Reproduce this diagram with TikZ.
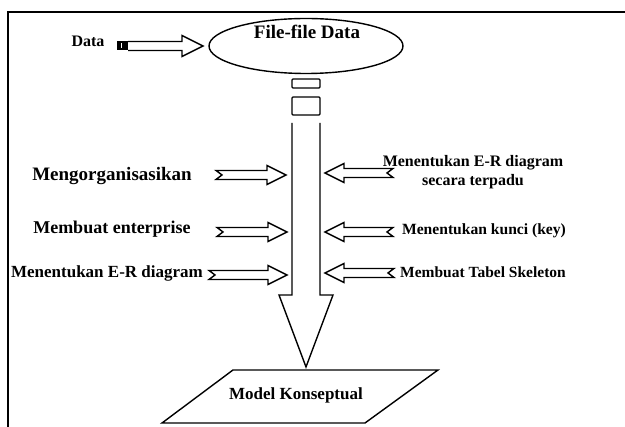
\documentclass[tikz,border=0pt]{standalone}
\usepackage{fontspec}
\setmainfont{Liberation Serif}
\usetikzlibrary{shapes.geometric,calc}
\tikzset{
  lbl/.style={inner sep=0pt, align=center, font=\bfseries},
  shp/.style={draw, line width=1.4pt, line join=miter},
  frame/.style={draw, line width=1.8pt}
}
\newcommand\notchedarrow[2]{%
  \path ($(#2)!19pt!(#1)$) coordinate (hb) ($(#1)!6pt!(#2)$) coordinate (nt);
  \draw[shp] ($(#1)+(0,4.5)$) -- ($(hb)+(0,4.5)$) -- ($(hb)+(0,9.5)$) -- (#2)
    -- ($(hb)+(0,-9.5)$) -- ($(hb)+(0,-4.5)$) -- ($(#1)+(0,-4.5)$) -- (nt) -- cycle;}
\begin{document}
\begin{tikzpicture}[x=1pt,y=-1pt]
\useasboundingbox (0,0) rectangle (625,427);
% frame
\draw[frame] (8,427) -- (8,12) -- (625,12);
% Data input
\node[lbl, font=\bfseries\fontsize{16}{18}\selectfont] (data) at (88,41) {Data};
\node[fill=black, minimum width=11pt, minimum height=9pt, inner sep=0pt] (blk) at (122.5,46) {};
\draw[white, line width=0.8pt] ($(blk.center)+(-1,-2.5)$) -- ($(blk.center)+(-1,2.5)$);
\coordinate (dt) at (128,46);
\coordinate (dh) at (203,46);
\draw[shp] ($(dt)+(0,4.5)$) -- ($(dh)+(-21,4.5)$) -- ($(dh)+(-21,10.5)$) -- (dh)
  -- ($(dh)+(-21,-10.5)$) -- ($(dh)+(-21,-4.5)$) -- ($(dt)+(0,-4.5)$);
% ellipse
\node[ellipse, shp, minimum width=194pt, minimum height=55pt, inner sep=0pt] (files) at (306,46) {};
\node[lbl, font=\bfseries\fontsize{19}{21}\selectfont] (filestxt) at (307,32) {File-file Data};
% small rectangles
\node[shp, rounded corners=1pt, minimum width=28pt, minimum height=9pt, inner sep=0pt] (r1) at (306,83.5) {};
\node[shp, rounded corners=1pt, minimum width=28pt, minimum height=18pt, inner sep=0pt] (r2) at (306,106) {};
% big arrow
\coordinate (bs) at (306,123);
\coordinate (btip) at (306,367);
\draw[shp] ($(bs)+(-14,0)$) -- ($(bs)+(-14,172)$) -- ($(bs)+(-27,172)$) -- (btip)
  -- ($(bs)+(27,172)$) -- ($(bs)+(14,172)$) -- ($(bs)+(14,0)$);
% parallelogram
\coordinate (p1) at (233,370);
\coordinate (p2) at (438,370);
\coordinate (p3) at (365,423);
\coordinate (p4) at (162,423);
\draw[shp] (p1) -- (p2) -- (p3) -- (p4) -- cycle;
\node[lbl, font=\bfseries\fontsize{17}{19}\selectfont] (model) at (296,395) {Model Konseptual};
% left labels
\node[lbl, font=\bfseries\fontsize{19}{21}\selectfont] (l1) at (112,176) {Mengorganisasikan};
\node[lbl, font=\bfseries\fontsize{18}{20}\selectfont] (l2) at (112,229) {Membuat enterprise};
\node[lbl, font=\bfseries\fontsize{17}{19}\selectfont] (l3) at (107,273) {Menentukan E-R diagram};
% right labels
\node[lbl, font=\bfseries\fontsize{16}{19}\selectfont] (r1t) at (473,172) {Menentukan E-R diagram\\secara terpadu};
\node[lbl, font=\bfseries\fontsize{15.6}{18}\selectfont] (r2t) at (484,231) {Menentukan kunci (key)};
\node[lbl, font=\bfseries\fontsize{15.5}{18}\selectfont] (r3t) at (483,272) {Membuat Tabel Skeleton};
% side arrows
\coordinate (la1) at (216,175); \coordinate (lb1) at (286,175);
\coordinate (la2) at (217,232); \coordinate (lb2) at (287,232);
\coordinate (la3) at (209,275); \coordinate (lb3) at (287,275);
\coordinate (ra1) at (393,173); \coordinate (rb1) at (325,173);
\coordinate (ra2) at (393,232); \coordinate (rb2) at (325,232);
\coordinate (ra3) at (394,273); \coordinate (rb3) at (325,273);
\notchedarrow{la1}{lb1}
\notchedarrow{la2}{lb2}
\notchedarrow{la3}{lb3}
\notchedarrow{ra1}{rb1}
\notchedarrow{ra2}{rb2}
\notchedarrow{ra3}{rb3}
\end{tikzpicture}
\end{document}
